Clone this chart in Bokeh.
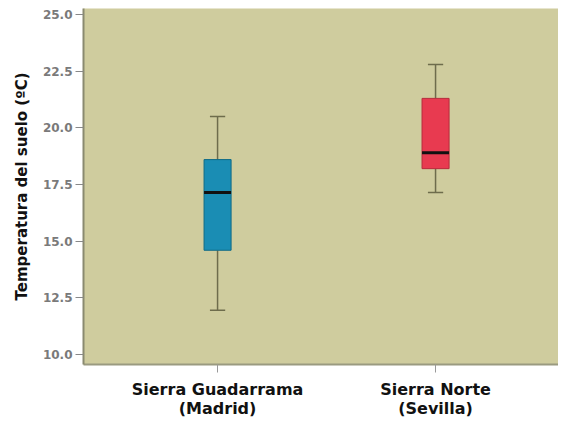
from bokeh.plotting import figure
from bokeh.models import Range1d, FixedTicker, ColumnDataSource
from bokeh.embed import file_html
from bokeh.resources import INLINE

categories = ["Sierra Guadarrama\n(Madrid)", "Sierra Norte\n(Sevilla)"]
positions = [1, 2]
lower_whisker = [11.95, 17.15]
q1 = [14.6, 18.2]
median = [17.15, 18.9]
q3 = [18.6, 21.3]
upper_whisker = [20.5, 22.8]
colors = ["#1a8db4", "#e83a50"]
outline = ["#0f6a86", "#b82a3c"]
y_ticks = [10.0, 12.5, 15.0, 17.5, 20.0, 22.5, 25.0]

box_w = 0.124
cap_w = 0.07

src = ColumnDataSource(dict(
    x=positions, lw=lower_whisker, q1=q1, med=median, q3=q3, uw=upper_whisker,
    color=colors, outline=outline,
    cap_l=[p - cap_w / 2 for p in positions], cap_r=[p + cap_w / 2 for p in positions],
    box_l=[p - box_w / 2 for p in positions], box_r=[p + box_w / 2 for p in positions],
))

p = figure(width=558, height=421, output_backend="svg", toolbar_location=None,
           x_range=Range1d(0.385, 2.564), y_range=Range1d(9.56, 25.265),
           min_border_left=83, min_border_top=8, min_border_right=0, min_border_bottom=40)
p.background_fill_color = "#cfcc9e"
p.border_fill_color = "white"
p.outline_line_color = None
p.xgrid.visible = False
p.ygrid.visible = False

# whiskers
p.segment(x0="x", y0="lw", x1="x", y1="q1", source=src, line_color="#6e6c4c", line_width=1.5)
p.segment(x0="x", y0="q3", x1="x", y1="uw", source=src, line_color="#6e6c4c", line_width=1.5)
p.segment(x0="cap_l", y0="lw", x1="cap_r", y1="lw", source=src, line_color="#6e6c4c", line_width=1.5)
p.segment(x0="cap_l", y0="uw", x1="cap_r", y1="uw", source=src, line_color="#6e6c4c", line_width=1.5)
# boxes
p.vbar(x="x", width=box_w, bottom="q1", top="q3", source=src,
       fill_color="color", line_color="outline", line_width=1)
# medians
p.segment(x0="box_l", y0="med", x1="box_r", y1="med", source=src, line_color="#111111", line_width=3)

font = "DejaVu Sans"

p.yaxis.ticker = FixedTicker(ticks=y_ticks)
p.yaxis.major_label_overrides = {t: f"{t:.1f}" for t in y_ticks}
p.yaxis.axis_label = "Temperatura del suelo (ºC)"
p.yaxis.axis_label_text_font = font
p.yaxis.axis_label_text_font_style = "bold"
p.yaxis.axis_label_text_font_size = "15px"
p.yaxis.axis_label_text_color = "#111111"
p.yaxis.axis_label_standoff = 9
p.yaxis.major_label_text_font = font
p.yaxis.major_label_text_font_size = "12px"
p.yaxis.major_label_text_font_style = "bold"
p.yaxis.major_label_text_color = "#7a7a7a"
p.yaxis.major_label_standoff = 3
p.yaxis.minor_tick_line_color = None
p.yaxis.major_tick_in = 0
p.yaxis.major_tick_out = 8
p.yaxis.major_tick_line_color = "#888888"
p.yaxis.axis_line_color = "#8a8a70"
p.yaxis.axis_line_width = 2

p.xaxis.ticker = FixedTicker(ticks=positions)
p.xaxis.major_label_overrides = {pos: c for pos, c in zip(positions, categories)}
p.xaxis.major_label_text_font = font
p.xaxis.major_label_text_font_size = "16px"
p.xaxis.major_label_text_font_style = "bold"
p.xaxis.major_label_text_color = "#111111"
p.xaxis.major_label_text_line_height = 1.05
p.xaxis.major_label_standoff = 7
p.xaxis.minor_tick_line_color = None
p.xaxis.major_tick_in = 0
p.xaxis.major_tick_out = 8
p.xaxis.major_tick_line_color = "#999999"
p.xaxis.axis_line_color = "#9a9a80"
p.xaxis.axis_line_width = 2

open("out.html", "w").write(file_html(p, INLINE))
